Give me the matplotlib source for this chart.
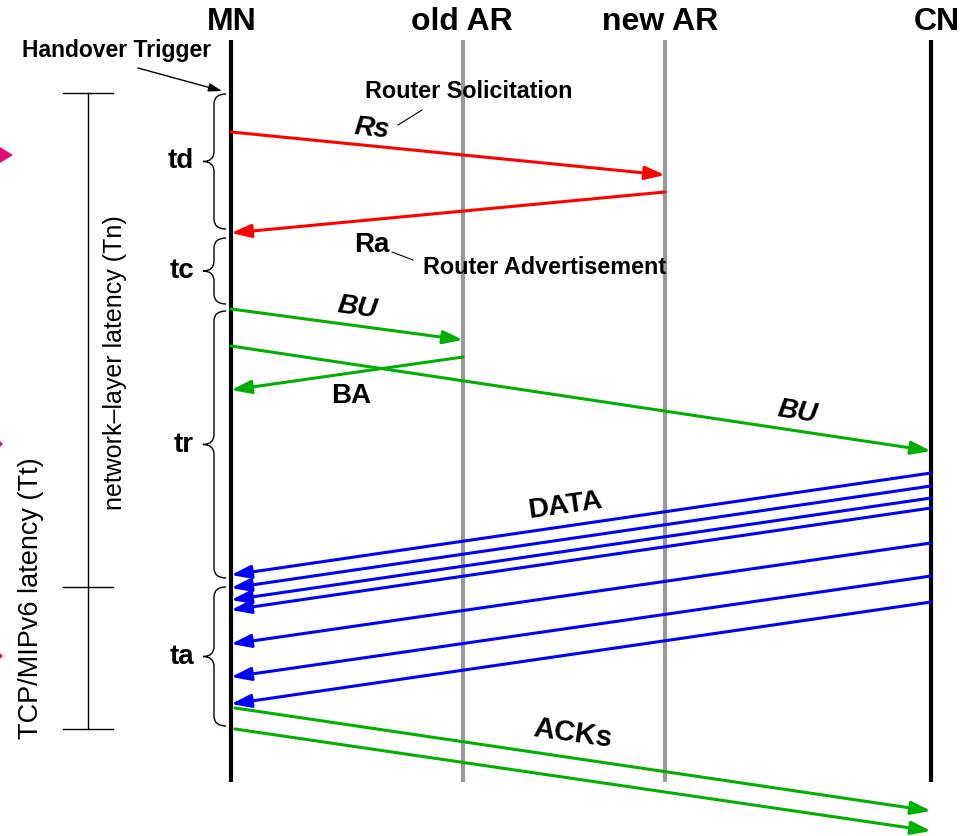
import matplotlib.pyplot as plt
from matplotlib.path import Path
from matplotlib.patches import PathPatch, Polygon

plt.rcParams['font.family'] = ['Liberation Sans', 'DejaVu Sans']

# lifelines
lifeline_names = ['MN', 'old AR', 'new AR', 'CN']
lifeline_x = [231, 463, 665, 931]
lifeline_colors = ['black', '#999999', '#999999', 'black']
title_x = [232, 462, 660, 937]

# single signalling messages (y where they leave / arrive)
msg_from = ['MN', 'new AR', 'MN', 'old AR', 'MN']
msg_to = ['new AR', 'MN', 'old AR', 'MN', 'CN']
msg_y0 = [132, 192, 309, 357, 346]
msg_y1 = [175, 233, 340, 390, 451]
msg_colors = ['#ff0000', '#ff0000', '#00b000', '#00b000', '#00b000']

# data packets CN -> MN
data_cn_y = [473, 486, 498, 508, 543, 576, 602]
data_mn_y = [575, 588, 600, 610, 644, 677, 704]

# acks MN -> CN
ack_mn_y = [708, 729]
ack_cn_y = [811, 831]

# delay braces on the MN lifeline
brace_labels = ['td', 'tc', 'tr', 'ta']
brace_top = [94, 238, 311, 587]
brace_bottom = [229, 304, 578, 726]

# latency bar ticks
latency_ticks = [93, 587, 729]

fig = plt.figure(figsize=(9.6, 8.36), dpi=100)
ax = fig.add_axes([0, 0, 1, 1])
ax.set_xlim(0, 960)
ax.set_ylim(836, 0)
ax.axis('off')

pos = dict(zip(lifeline_names, lifeline_x))

for name, x, c, tx in zip(lifeline_names, lifeline_x, lifeline_colors, title_x):
    ax.plot([x, x], [40, 782], color=c, lw=3, solid_capstyle='butt', zorder=1)
    ax.text(tx, 22, name, ha='center', va='center', fontsize=23, fontweight='bold')


def arrow(x0, y0, x1, y1, color):
    ax.annotate('', xy=(x1, y1), xytext=(x0, y0),
                arrowprops=dict(arrowstyle='-|>,head_length=1.2,head_width=0.4',
                                color=color, lw=2.2, shrinkA=0, shrinkB=0),
                zorder=3)


for a, b, y0, y1, c in zip(msg_from, msg_to, msg_y0, msg_y1, msg_colors):
    arrow(pos[a], y0, pos[b], y1, c)

for y0, y1 in zip(data_cn_y, data_mn_y):
    arrow(pos['CN'], y0, pos['MN'], y1, '#0000ff')

for y0, y1 in zip(ack_mn_y, ack_cn_y):
    arrow(pos['MN'] + 4, y0, pos['CN'], y1, '#00b000')


def brace(y0, y1, xr=226, xm=214, xt=203, h=10):
    ym = (y0 + y1) / 2
    verts = [(xr, y0), (xm, y0), (xm, y0 + h),
             (xm, ym - h), (xm, ym), (xt, ym),
             (xm, ym), (xm, ym + h),
             (xm, y1 - h), (xm, y1), (xr, y1)]
    codes = [Path.MOVETO, Path.CURVE3, Path.CURVE3,
             Path.LINETO, Path.CURVE3, Path.CURVE3,
             Path.CURVE3, Path.CURVE3,
             Path.LINETO, Path.CURVE3, Path.CURVE3]
    ax.add_patch(PathPatch(Path(verts, codes), fill=False, lw=1, ec='black'))
    return ym


for lab, t, b in zip(brace_labels, brace_top, brace_bottom):
    ym = brace(t, b)
    ax.text(194, ym, lab, ha='right', va='center', fontsize=20, fontweight='bold')

# latency bars
ax.plot([88, 88], [latency_ticks[0], latency_ticks[-1]], color='black', lw=1)
for y in latency_ticks:
    ax.plot([63, 113], [y, y], color='black', lw=1)
ax.text(115, 363, 'network\u2013layer latency (Tn)', rotation=90, ha='center', va='center',
        fontsize=18)
ax.text(31, 598, 'TCP/MIPv6 latency (Tt)', rotation=90, ha='center', va='center',
        fontsize=19.5)

# handover trigger
ax.text(22, 50, 'Handover Trigger', ha='left', va='center', fontsize=16.5, fontweight='bold')
ax.annotate('', xy=(222, 91), xytext=(138, 68),
            arrowprops=dict(arrowstyle='-|>,head_length=0.8,head_width=0.25',
                            color='black', lw=1, shrinkA=0, shrinkB=0))

# message labels
ax.text(372, 129, 'Rs', ha='center', va='center', fontsize=20, fontweight='bold',
        style='italic', rotation=-6)
ax.text(365, 92, 'Router Solicitation', ha='left', va='center', fontsize=16.8, fontweight='bold')
ax.plot([398, 422], [125, 110], color='black', lw=0.8)
ax.text(372, 245, 'Ra', ha='center', va='center', fontsize=20, fontweight='bold')
ax.plot([392, 413], [252, 260], color='black', lw=0.8)
ax.text(423, 268, 'Router Advertisement', ha='left', va='center', fontsize=16.8, fontweight='bold')
ax.text(357, 308, 'BU', ha='center', va='center', fontsize=20, fontweight='bold',
        style='italic', rotation=-8)
ax.text(351, 396, 'BA', ha='center', va='center', fontsize=20, fontweight='bold')
ax.text(797, 412, 'BU', ha='center', va='center', fontsize=20, fontweight='bold',
        style='italic', rotation=-9)
ax.text(565, 506, 'DATA', ha='center', va='center', fontsize=20.5, fontweight='bold', rotation=8)
ax.text(573, 734, 'ACKs', ha='center', va='center', fontsize=21, fontweight='bold', rotation=-8)

# page-edge markers
ax.add_patch(Polygon([(0, 147), (13, 155), (0, 163)], closed=True, color='#e0107a', lw=0))
ax.add_patch(Polygon([(0, 441), (3, 444), (0, 447)], closed=True, color='#e0107a', lw=0))
ax.add_patch(Polygon([(0, 653), (3, 656), (0, 659)], closed=True, color='#e0107a', lw=0))

fig.savefig('out.png', dpi=100)
